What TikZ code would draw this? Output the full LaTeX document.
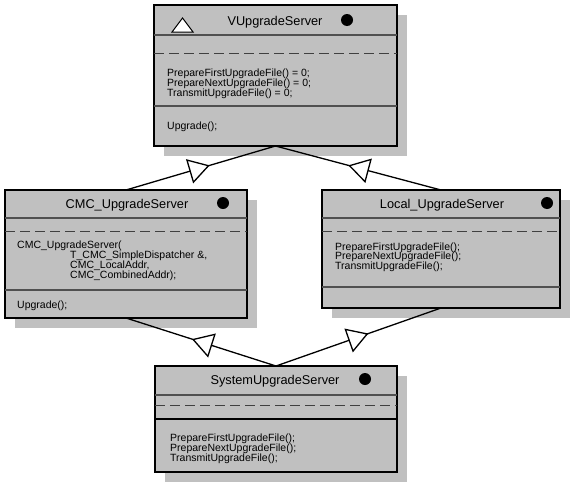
\documentclass[tikz,border=0pt]{standalone}
\usepackage{fontspec}
\setmainfont{Liberation Sans}
\usetikzlibrary{arrows.meta,decorations.markings,shadows}

\definecolor{boxgray}{HTML}{C0C0C0}
\definecolor{sepgray}{HTML}{505050}
\definecolor{dashgray}{HTML}{404040}

\tikzset{
  cls/.style={draw=black, line width=1.2pt, fill=boxgray, inner sep=0pt, outer sep=0pt,
    drop shadow={shadow xshift=10pt, shadow yshift=-10pt, fill=boxgray, opacity=1}},
  sepline/.style={draw=sepgray, line width=1.1pt},
  dashline/.style={draw=dashgray, line width=1pt, dash pattern=on 10pt off 5pt},
  ttl/.style={anchor=base, inner sep=0pt, font=\fontsize{12.75}{14}\selectfont},
  op/.style={anchor=base west, inner sep=0pt, font=\fontsize{10.5}{10}\selectfont},
  activedot/.style={circle, fill=black, minimum size=12pt, inner sep=0pt},
  gen/.style={draw=black, line width=1.3pt,
    postaction={decorate},
    decoration={markings, mark=at position 0.56 with
      {\arrow[line width=1.3pt]{Triangle[length=21pt,width=25pt,fill=white]}}}}
}

\begin{document}
\begin{tikzpicture}[x=1pt, y=-1pt]
\useasboundingbox (0,0) rectangle (570,490);

% class boxes
\node[cls, minimum width=243pt, minimum height=141pt] (v)   at (275.5,75.5) {};
\node[cls, minimum width=242pt, minimum height=128pt] (cmc) at (126,254) {};
\node[cls, minimum width=238pt, minimum height=118pt] (loc) at (441,249) {};
\node[cls, minimum width=242pt, minimum height=106pt] (sys) at (276,419) {};

% VUpgradeServer
\draw[sepline] (154,35) -- (397,35);
\draw[dashline] (154,53) -- (397,53);
\draw[sepline] (154,106) -- (397,106);
\draw[line width=1pt, fill=white] (172,32) -- (193,32) -- (182.5,18) -- cycle;
\node[ttl] (vt) at (275,25) {VUpgradeServer};
\node[activedot] (vd) at (347,20) {};
\node[op] (v1) at (167,76) {PrepareFirstUpgradeFile() = 0;};
\node[op] (v2) at (167,86) {PrepareNextUpgradeFile() = 0;};
\node[op] (v3) at (167,96) {TransmitUpgradeFile() = 0;};
\node[op] (v4) at (167,129) {Upgrade();};

% CMC_UpgradeServer
\draw[sepline] (5,218) -- (247,218);
\draw[dashline] (5,231) -- (247,231);
\draw[sepline] (5,290) -- (247,290);
\node[ttl] (ct) at (127,208) {CMC\_UpgradeServer};
\node[activedot] (cd) at (223,203) {};
\node[op] (c1) at (17,248) {CMC\_UpgradeServer(};
\node[op] (c2) at (70,258) {T\_CMC\_SimpleDispatcher \&,};
\node[op] (c3) at (70,268) {CMC\_LocalAddr,};
\node[op] (c4) at (70,278) {CMC\_CombinedAddr);};
\node[op] (c5) at (17,308) {Upgrade();};

% Local_UpgradeServer
\draw[sepline] (322,218) -- (560,218);
\draw[dashline] (322,231) -- (560,231);
\draw[sepline] (322,287) -- (560,287);
\node[ttl] (lt) at (442,208) {Local\_UpgradeServer};
\node[activedot] (ld) at (547,203) {};
\node[op] (l1) at (335,250) {PrepareFirstUpgradeFile();};
\node[op] (l2) at (335,259.5) {PrepareNextUpgradeFile();};
\node[op] (l3) at (335,269) {TransmitUpgradeFile();};

% SystemUpgradeServer
\draw[sepline] (155,395) -- (397,395);
\draw[dashline] (155,405) -- (397,405);
\draw[line width=1.1pt] (155,419) -- (397,419);
\node[ttl] (st) at (275,384) {SystemUpgradeServer};
\node[activedot] (sd) at (365,379) {};
\node[op] (s1) at (170,441) {PrepareFirstUpgradeFile();};
\node[op] (s2) at (170,451) {PrepareNextUpgradeFile();};
\node[op] (s3) at (170,461) {TransmitUpgradeFile();};

% generalisations
\draw[gen] (cmc.north) -- (v.south);
\draw[gen] (loc.north) -- (v.south);
\draw[gen] (sys.north) -- (cmc.south);
\draw[gen] (sys.north) -- (loc.south);
\end{tikzpicture}
\end{document}
